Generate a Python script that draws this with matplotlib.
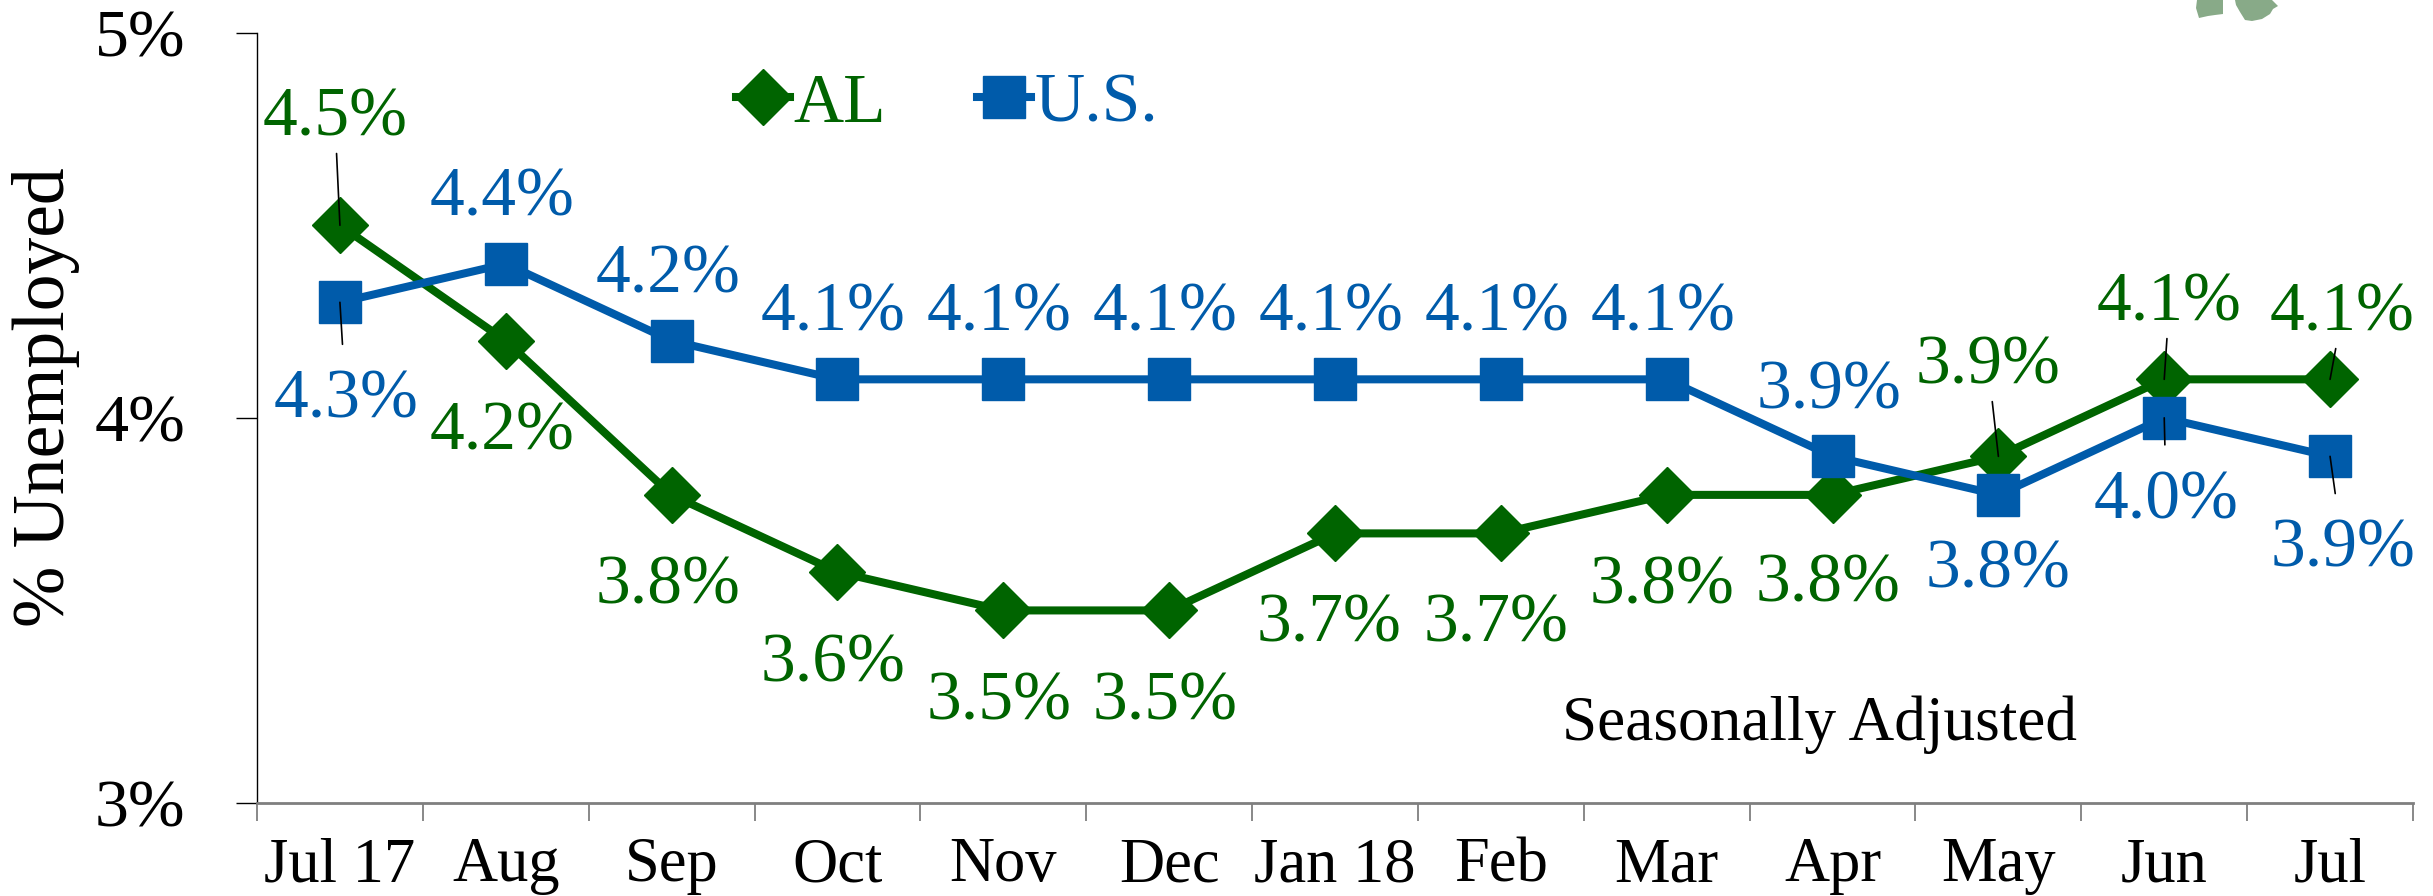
import numpy as np
import matplotlib.pyplot as plt
from matplotlib.patches import Polygon

plt.rcParams['font.family'] = ['Liberation Serif', 'DejaVu Serif']

months = ['Jul 17', 'Aug', 'Sep', 'Oct', 'Nov', 'Dec', 'Jan 18',
          'Feb', 'Mar', 'Apr', 'May', 'Jun', 'Jul']
alabama = [4.5, 4.2, 3.8, 3.6, 3.5, 3.5, 3.7, 3.7, 3.8, 3.8, 3.9, 4.1, 4.1]
us = [4.3, 4.4, 4.2, 4.1, 4.1, 4.1, 4.1, 4.1, 4.1, 3.9, 3.8, 4.0, 3.9]
y_ticks = [3, 4, 5]

green = '#006400'
blue = '#005BAA'

# where each value label sits: pixels from the marker to the middle of the
# digits (dy > 0 means below), and whether a leader line is drawn to it
al_offsets = [(-5, -113), (-4, 85), (-4, 85), (-4, 86), (-4, 86), (-4, 86), (-6, 85),
              (-5, 85), (-5, 85), (-5, 83), (-10, -96), (5, -82), (12, -72)]
al_leaders = [True, False, False, False, False, False, False,
              False, False, False, True, True, True]
us_offsets = [(6, 92), (-4, -72), (-4, -72), (-4, -72), (-4, -72), (-4, -72), (-4, -72),
              (-4, -72), (-4, -72), (-4, -71), (0, 69), (2, 77), (13, 87)]
us_leaders = [True, False, False, False, False, False, False,
              False, False, False, False, True, True]

W, H = 2433, 896
fig = plt.figure(figsize=(W / 100, H / 100), dpi=100)
ax = fig.add_axes([257 / W, 1 - 803 / H, 2156 / W, 770.3 / H])

x = np.arange(len(months))
ax.plot(x, alabama, color=green, lw=5.8, marker='D', ms=28.5, label='AL')
ax.plot(x, us, color=blue, lw=5.8, marker='s', ms=30, label='U.S.')

LABEL_SIZE = 50
em = LABEL_SIZE * 100 / 72


def label_series(vals, offsets, leaders, color):
    for i, (v, (dx, dy), lead) in enumerate(zip(vals, offsets, leaders)):
        props = None
        if lead:
            props = dict(arrowstyle='-', color='black', lw=1.2,
                         shrinkA=16 if dy > 0 else 0, shrinkB=0)
        ax.annotate(f'{v:.1f}%', xy=(i, v), xytext=(dx, -(dy + 0.338 * em)),
                    textcoords='offset pixels', ha='center', va='baseline',
                    fontsize=LABEL_SIZE, color=color, arrowprops=props,
                    annotation_clip=False)


label_series(alabama, al_offsets, al_leaders, green)
label_series(us, us_offsets, us_leaders, blue)

# axes
ax.set_xlim(-0.5, len(months) - 0.5)
ax.set_ylim(3, 5)
ax.set_xticks(x)
ax.set_xticklabels(months)
ax.set_xticks(np.arange(-0.5, len(months), 1), minor=True)
ax.tick_params(axis='x', which='major', length=0, pad=24.5, labelsize=45)
ax.tick_params(axis='x', which='minor', length=13, width=1.3, color='#7f7f7f')
ax.set_yticks(y_ticks)
ax.set_yticklabels([f'{t}%' for t in y_ticks])
ax.tick_params(axis='y', length=15, width=1, pad=36.7, labelsize=49)

for side in ['top', 'right']:
    ax.spines[side].set_visible(False)
ax.spines['left'].set_linewidth(1)
ax.spines['bottom'].set_color('#7f7f7f')
ax.spines['bottom'].set_linewidth(2)

ax.set_ylabel('% Unemployed', fontsize=53, va='center')
ax.yaxis.set_label_coords(-0.0979, 0.527)

ax.text(0.7245, 0.0818, 'Seasonally Adjusted', transform=ax.transAxes,
        ha='center', va='baseline', fontsize=45.5)

leg = ax.legend(loc='center left', bbox_to_anchor=(736 / W, 1 - 105 / H),
                bbox_transform=fig.transFigure, ncol=2, frameon=False,
                borderpad=0, borderaxespad=0, handlelength=0.78,
                handletextpad=0.05, columnspacing=1.3, fontsize=50)
for txt, c in zip(leg.get_texts(), [green, blue]):
    txt.set_color(c)

# corner of the state map peeking in at the top right
blobs = [
    [(2197, 0), (2223, 0), (2223, 14), (2215, 15), (2208, 16), (2199, 18), (2196, 8)],
    [(2235, 0), (2272, 0), (2278, 6), (2273, 9), (2270, 14), (2262, 19),
     (2252, 21), (2245, 20), (2240, 12), (2236, 5)],
]
for pts in blobs:
    fig.patches.append(Polygon([(px / W, 1 - py / H) for px, py in pts],
                               closed=True, transform=fig.transFigure,
                               facecolor='#88aa88', edgecolor='none'))

fig.savefig('out.png', dpi=100)
